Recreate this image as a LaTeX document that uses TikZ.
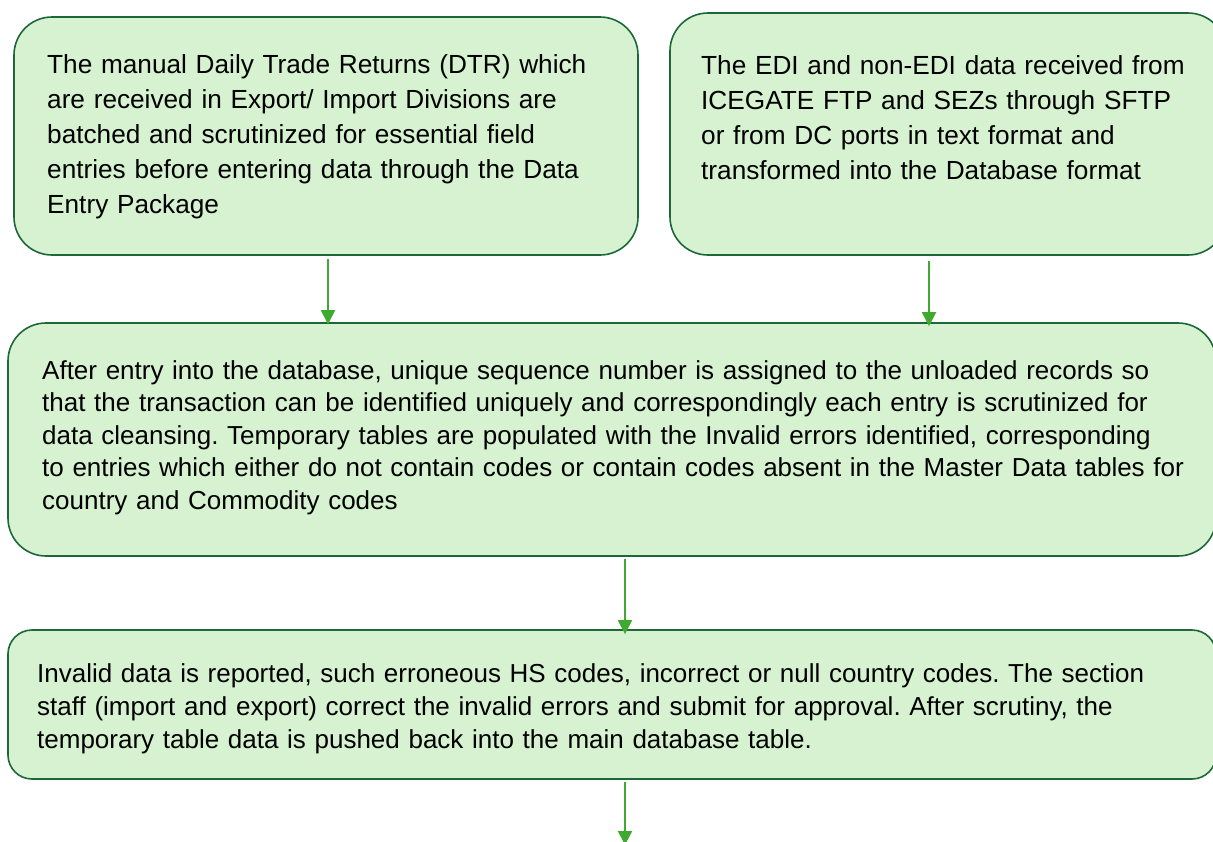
\documentclass[tikz,border=0pt]{standalone}
\usepackage{fontspec}
\setmainfont{Liberation Sans}
\usetikzlibrary{arrows.meta}
\definecolor{boxfill}{RGB}{214,242,208}
\definecolor{boxline}{RGB}{28,104,56}
\definecolor{flowgreen}{RGB}{62,170,48}
\frenchspacing

\begin{document}
\begin{tikzpicture}[x=1pt,y=-1pt,
  box/.style={draw=boxline,fill=boxfill,line width=1.6pt,rounded corners=38pt,inner sep=0pt},
  txt/.style={inner sep=0pt,anchor=base west,align=left,text width=1160pt,font=\fontsize{26.2}{35}\selectfont},
  flow/.style={draw=flowgreen,line width=2pt,-{Triangle[length=14pt,width=14pt]}}]
  \useasboundingbox (0,0) rectangle (1213,841);
  \node [box,minimum width=624pt,minimum height=238pt] (dtr) at (326,136) {};
  \node [box,minimum width=556pt,minimum height=242pt] (edi) at (948,134) {};
  \node [box,minimum width=1208pt,minimum height=233pt] (cleanse) at (612,439.5) {};
  \node [box,rounded corners=24pt,minimum width=1208pt,minimum height=149pt] (invalid) at (612,704.5) {};
  \node [txt] (dtrtxt) at (47,73) {The manual Daily Trade Returns (DTR) which\\
    are received in Export/ Import Divisions are\\
    batched and scrutinized for essential field\\
    entries before entering data through the Data\\
    Entry Package};
  \node [txt] (editxt) at (701,74) {The EDI and non-EDI data received from\\
    ICEGATE FTP and SEZs through SFTP\\
    or from DC ports in text format and\\
    transformed into the Database format};
  \node [txt,font=\fontsize{26}{32.5}\selectfont] (cleansetxt) at (42,379) {After entry into the database, unique sequence number is assigned to the unloaded records so\\
    that the transaction can be identified uniquely and correspondingly each entry is scrutinized for\\
    data cleansing. Temporary tables are populated with the Invalid errors identified, corresponding\\
    to entries which either do not contain codes or contain codes absent in the Master Data tables for\\
    country and Commodity codes};
  \node [txt,font=\fontsize{26}{33}\selectfont] (invalidtxt) at (37,682) {Invalid data is reported, such erroneous HS codes, incorrect or null country codes. The section\\
    staff (import and export) correct the invalid errors and submit for approval. After scrutiny, the\\
    temporary table data is pushed back into the main database table.};
  \coordinate (next) at (625,845);
  \draw [flow] ([xshift=2pt,yshift=-3pt]dtr.south) -- ([xshift=2pt,yshift=-2pt]dtr.south |- cleanse.north);
  \draw [flow] ([xshift=-19pt,yshift=-5pt]edi.south) -- ([xshift=-19pt,yshift=-4pt]edi.south |- cleanse.north);
  \draw [flow] ([xshift=13pt,yshift=-2pt]cleanse.south) -- ([xshift=13pt,yshift=-5pt]cleanse.south |- invalid.north);
  \draw [flow] ([xshift=13pt,yshift=-2pt]invalid.south) -- (next);
\end{tikzpicture}
\end{document}
